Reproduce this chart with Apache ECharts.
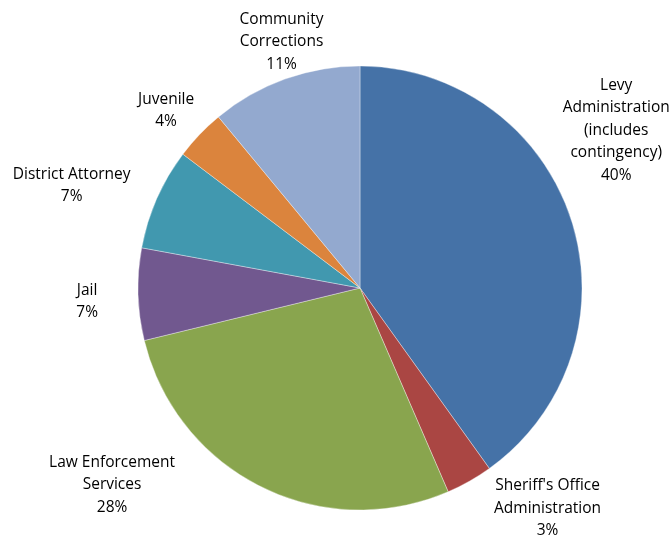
<!DOCTYPE html>
<html>
<head>
<meta charset="utf-8">
<script src="https://cdn.jsdelivr.net/npm/echarts@6/dist/echarts.min.js"></script>
<style>
html,body{margin:0;padding:0;background:#fff;}
#chart{width:672px;height:540px;}
</style>
</head>
<body>
<div id="chart"></div>
<script>
// Data
const categories = [
  "Levy\nAdministration\n(includes\ncontingency)",
  "Sheriff's Office\nAdministration",
  "Law Enforcement\nServices",
  "Jail",
  "District Attorney",
  "Juvenile",
  "Community\nCorrections"
];
const shares = [40.1, 3.4, 27.7, 6.7, 7.4, 3.7, 11.0];

// Styling (not data)
const colors = ['#4572A7', '#AA4643', '#89A54E', '#71588F', '#4198AF', '#DB843D', '#93A9CF'];
const CX = 360, CY = 288, R = 222;
const LABEL_GAP = 45;
// label nudges relative to the mid-angle anchor point
const labelNudge = [[2, -76], [56, -12], [-129, -42], [-6, 6], [-44, 5], [-1, 7], [12, 5]];

const total = shares.reduce((a, b) => a + b, 0);
const midAngles = [];
let acc = 0;
shares.forEach(v => { midAngles.push((acc + v / 2) / total * 2 * Math.PI); acc += v; });

const chart = echarts.init(document.getElementById('chart'), null, {renderer: 'canvas'});
chart.setOption({
  animation: false,
  backgroundColor: '#ffffff',
  series: [{
    type: 'pie',
    center: [CX, CY],
    radius: [0, R],
    startAngle: 90,
    clockwise: true,
    avoidLabelOverlap: false,
    data: categories.map((c, i) => ({
      name: c,
      value: shares[i],
      itemStyle: {color: colors[i]}
    })),
    itemStyle: {borderColor: 'rgba(255,255,255,0.7)', borderWidth: 0.5},
    label: {
      show: true,
      position: 'outside',
      fontFamily: '"Open Sans", sans-serif',
      fontSize: 15.5,
      lineHeight: 22.5,
      color: '#000000',
      align: 'center',
      formatter: p => p.name + '\n' + Math.round(p.percent) + '%'
    },
    labelLine: {show: false, length: 10, length2: 0},
    labelLayout: function (params) {
      const i = params.dataIndex;
      const a = midAngles[i];
      const d = R + LABEL_GAP;
      return {
        x: CX + d * Math.sin(a) + labelNudge[i][0],
        y: CY - d * Math.cos(a) + labelNudge[i][1],
        align: 'center',
        verticalAlign: 'middle'
      };
    },
    emphasis: {disabled: true}
  }]
});
</script>
</body>
</html>
